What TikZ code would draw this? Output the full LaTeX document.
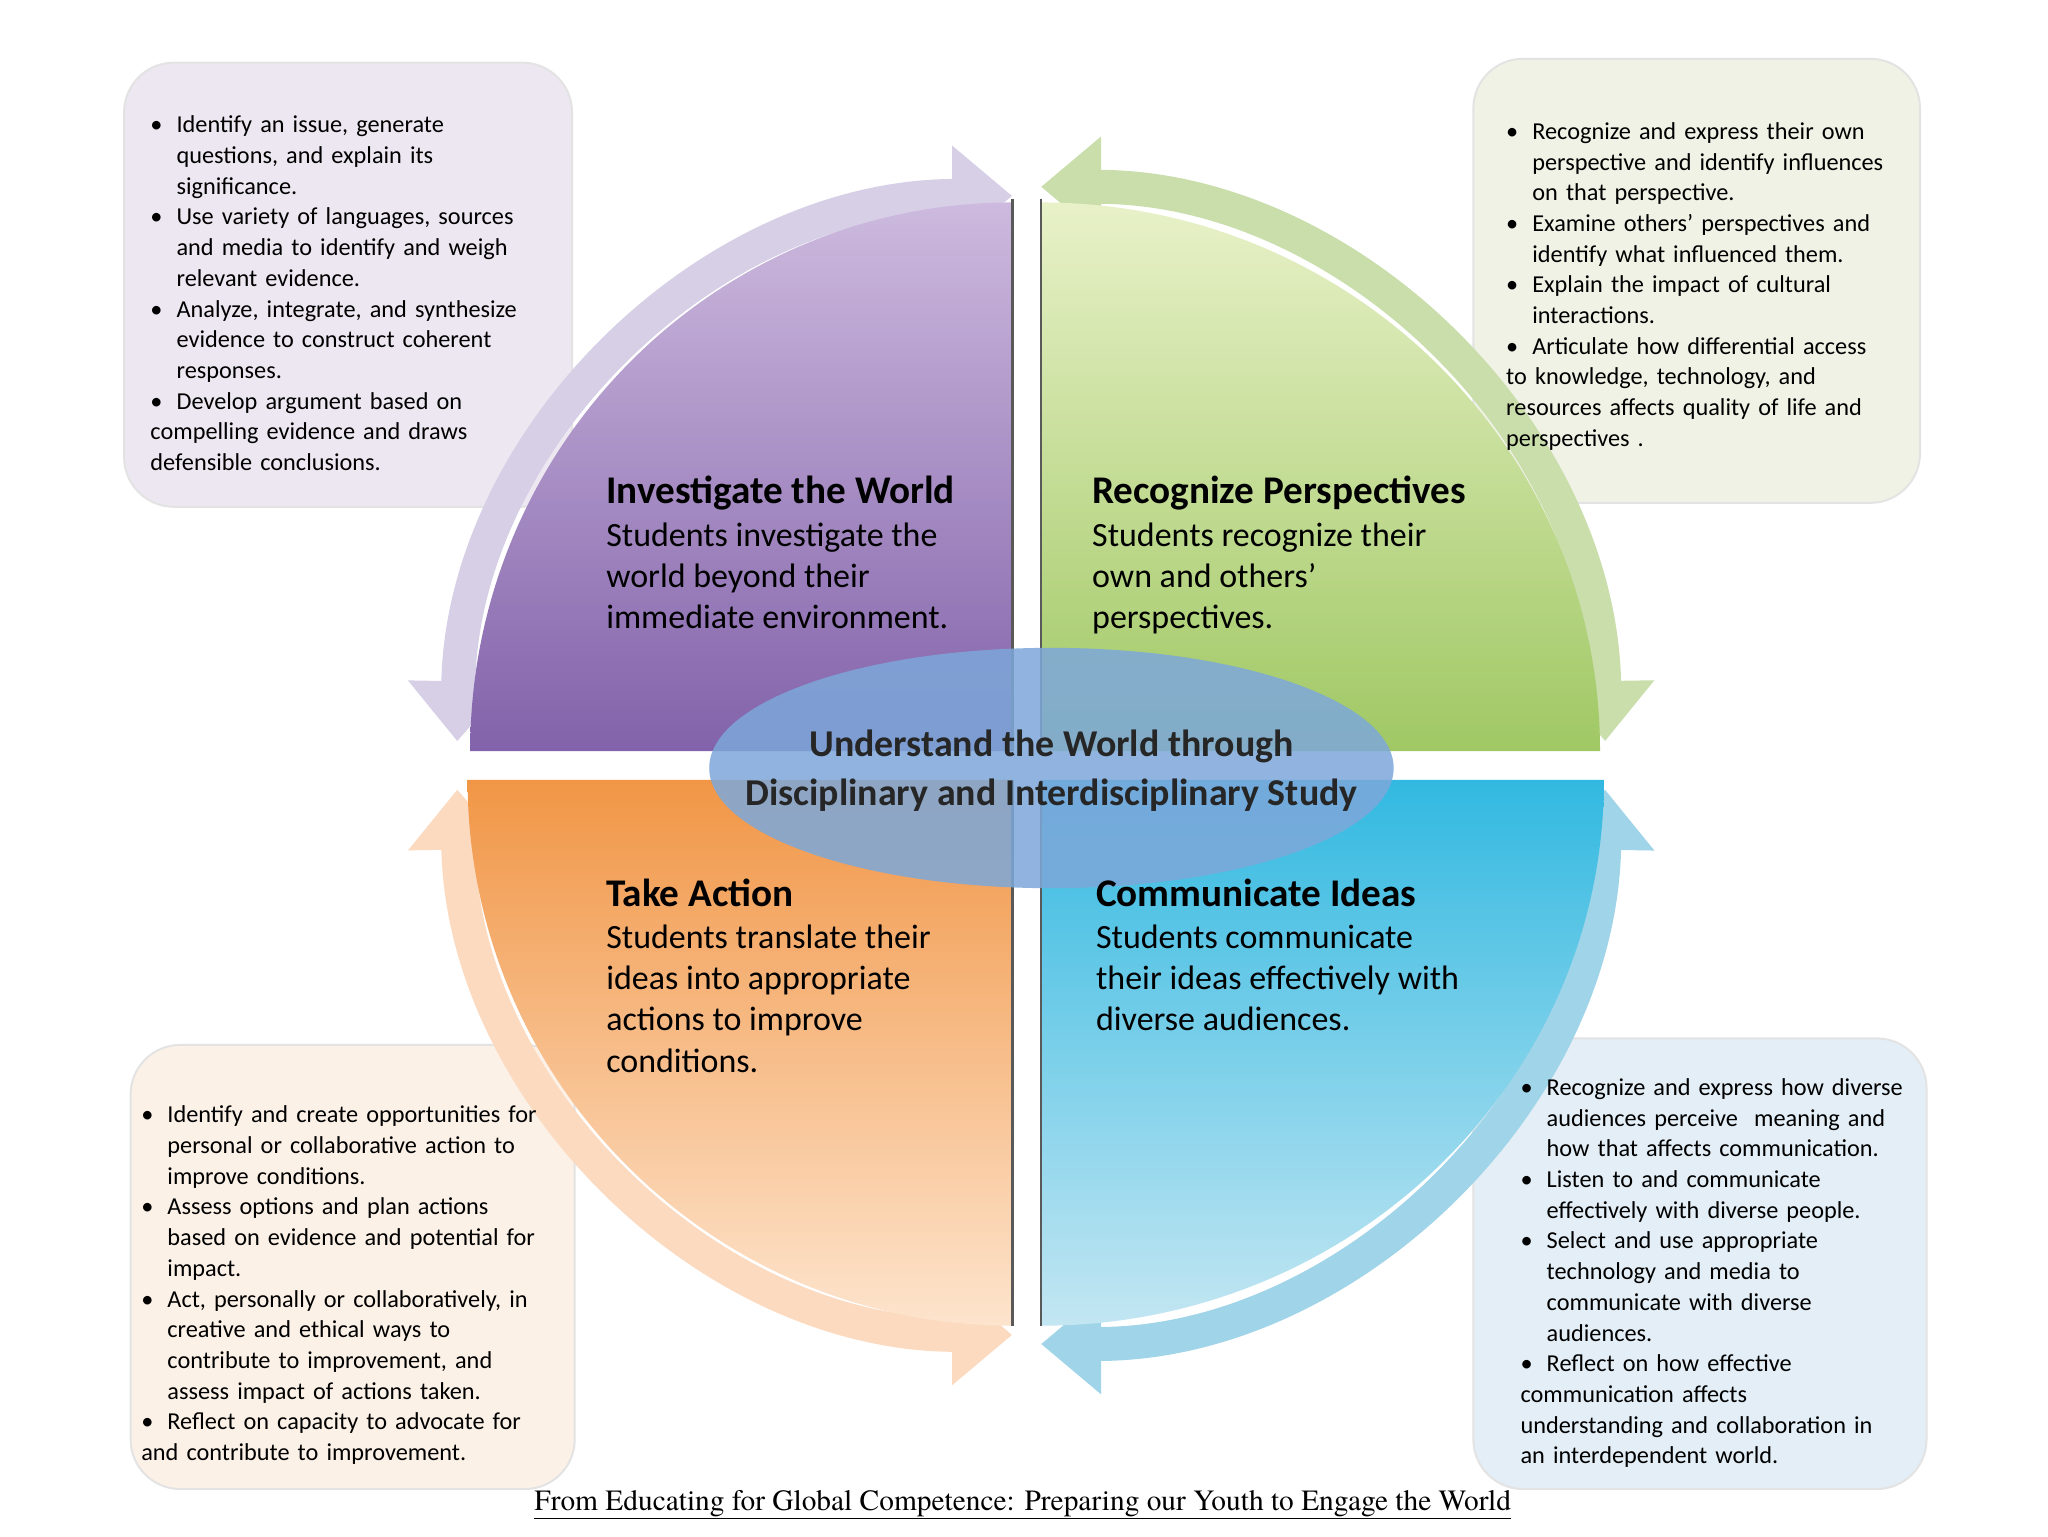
\documentclass[tikz,border=0pt]{standalone}
\usepackage{fontspec}
\setmainfont{Carlito}
\newfontfamily\capfont{TeX Gyre Termes}
\usetikzlibrary{arrows.meta,shapes.geometric}
\newcommand{\bul}[1]{\par\hangindent=20pt\hangafter=1\noindent\makebox[20pt][l]{•}#1}
\newcommand{\nl}{\newline}
\begin{document}
\begin{tikzpicture}[x=1pt,y=-1pt,
  infobox/.style={rounded corners=38pt,draw=gray!22,line width=1.5pt},
  btext/.style={anchor=north west,font=\fontsize{18.6}{23.5}\selectfont,text width=360pt,inner sep=0pt},
  ttl/.style={anchor=north west,align=left,font=\fontsize{30}{34}\selectfont\bfseries,inner sep=0pt},
  body/.style={anchor=north west,align=left,font=\fontsize{26}{31.5}\selectfont,inner sep=0pt},
  band/.style={line width=26pt,{Triangle[length=46pt,width=74pt]}-{Triangle[length=46pt,width=74pt]}}]
\useasboundingbox (0,0) rectangle (1568,1176);
\fill[white] (0,0) rectangle (1568,1176);
% info boxes
\draw[infobox,fill={rgb,255:red,236;green,231;blue,240}] (95,48) rectangle (438,388);
\draw[infobox,fill={rgb,255:red,239;green,242;blue,229}] (1128,45) rectangle (1470,385);
\draw[infobox,fill={rgb,255:red,252;green,241;blue,231}] (100,800) rectangle (440,1140);
\draw[infobox,fill={rgb,255:red,227;green,238;blue,246}] (1128,795) rectangle (1475,1140);
% arrows
\draw[band,draw={rgb,255:red,214;green,207;blue,230}] (775,575)++(181:425) arc[start angle=181,end angle=270,radius=425];
\draw[band,draw={rgb,255:red,202;green,222;blue,172}] (797,575)++(270:432) arc[start angle=270,end angle=359,radius=432];
\draw[band,draw={rgb,255:red,251;green,218;blue,192}] (775,597)++(179:425) arc[start angle=179,end angle=90,radius=425];
\draw[band,draw={rgb,255:red,160;green,212;blue,232}] (797,597)++(1:432) arc[start angle=1,end angle=90,radius=432];
% quadrants
\shade[top color={rgb,255:red,205;green,186;blue,222},bottom color={rgb,255:red,130;green,98;blue,170}]
  (775,575) -- (360,575) arc[start angle=180,end angle=90,x radius=415,y radius=-420] -- cycle;
\shade[top color={rgb,255:red,232;green,241;blue,200},bottom color={rgb,255:red,160;green,200;blue,100}]
  (797,575) -- (797,155) arc[start angle=90,end angle=0,x radius=428,y radius=-420] -- cycle;
\shade[top color={rgb,255:red,241;green,150;blue,70},bottom color={rgb,255:red,253;green,228;blue,205}]
  (775,597) -- (775,1015) arc[start angle=270,end angle=180,x radius=417,y radius=-418] -- cycle;
\shade[top color={rgb,255:red,50;green,185;blue,225},bottom color={rgb,255:red,195;green,230;blue,242}]
  (797,597) -- (1228,597) arc[start angle=0,end angle=-90,x radius=431,y radius=-418] -- cycle;
\draw[gray!70!black,line width=2pt] (775,152) -- (775,575) (797,152) -- (797,575) (775,597) -- (775,1015) (797,597) -- (797,1015);
% centre ellipse
\node[ellipse,fill={rgb,255:red,125;green,168;blue,218},fill opacity=0.85,minimum width=524pt,minimum height=184pt,inner sep=0pt] (core) at (805,588) {};
\node[font=\fontsize{29}{37}\selectfont\bfseries,align=center,text=black!85] (coret) at (805,590) {Understand the World through\\Disciplinary and Interdisciplinary Study};
% quadrant texts
\node[ttl] (t1) at (464,364) {Investigate the World};
\node[body] (b1) at (464,400) {Students investigate the\\world beyond their\\immediate environment.};
\node[ttl] (t2) at (836,364) {Recognize Perspectives};
\node[body] (b2) at (836,400) {Students recognize their\\own and others’\\perspectives.};
\node[ttl] (t3) at (464,673) {Take Action};
\node[body] (b3) at (464,708) {Students translate their\\ideas into appropriate\\actions to improve\\conditions.};
\node[ttl] (t4) at (839,673) {Communicate Ideas};
\node[body] (b4) at (839,708) {Students communicate\\their ideas effectively with\\diverse audiences.};
% box texts
\node[btext] (x1) at (115,78) {\parskip=0pt\bul{Identify an issue, generate\nl questions, and explain its\nl significance.}\bul{Use variety of languages, sources\nl and media to identify and weigh\nl relevant evidence.}\bul{Analyze, integrate, and synthesize\nl evidence to construct coherent\nl responses.}\bul{Develop argument based on\nl compelling evidence and draws\nl defensible conclusions.}};
\node[btext] (x2) at (1153,83) {\parskip=0pt\bul{Recognize and express their own\nl perspective and identify influences\nl on that perspective.}\bul{Examine others’ perspectives and\nl identify what influenced them.}\bul{Explain the impact of cultural\nl interactions.}\bul{Articulate how differential access\nl to knowledge, technology, and\nl resources affects quality of life and\nl perspectives .}};
\node[btext] (x3) at (108,836) {\parskip=0pt\bul{Identify and create opportunities for\nl personal or collaborative action to\nl improve conditions.}\bul{Assess options and plan actions\nl based on evidence and potential for\nl impact.}\bul{Act, personally or collaboratively, in\nl creative and ethical ways to\nl contribute to improvement, and\nl assess impact of actions taken.}\bul{Reflect on capacity to advocate for\nl and contribute to improvement.}};
\node[btext] (x4) at (1164,815) {\parskip=0pt\bul{Recognize and express how diverse\nl audiences perceive ~meaning and\nl how that affects communication.}\bul{Listen to and communicate\nl effectively with diverse people.}\bul{Select and use appropriate\nl technology and media to\nl communicate with diverse\nl audiences.}\bul{Reflect on how effective\nl communication affects\nl understanding and collaboration in\nl an interdependent world.}};
% caption
\node[font=\capfont\fontsize{22.5}{26}\selectfont] (cap) at (783,1152) {\underline{From Educating for Global Competence: Preparing our Youth to Engage the World}};
\end{tikzpicture}
\end{document}
